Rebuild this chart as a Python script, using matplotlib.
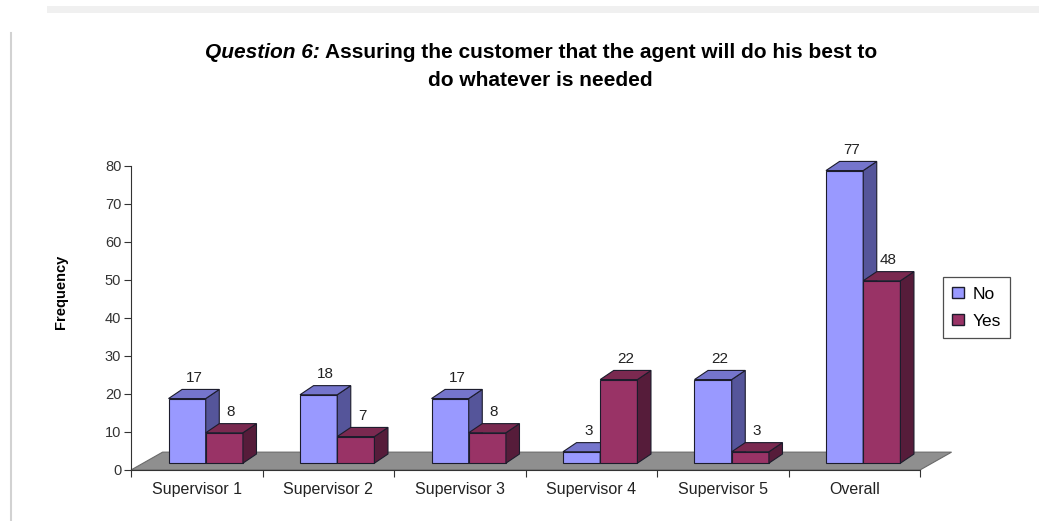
import numpy as np
import matplotlib.pyplot as plt
from matplotlib.patches import Polygon, Patch
from matplotlib.lines import Line2D

plt.rcParams['font.family'] = ['Liberation Sans', 'DejaVu Sans']

categories = ['Supervisor 1', 'Supervisor 2', 'Supervisor 3', 'Supervisor 4', 'Supervisor 5', 'Overall']
no_vals = [17, 18, 17, 3, 22, 77]
yes_vals = [8, 7, 8, 22, 3, 48]

# face colours: front, top, side
no_cols = ('#9999ff', '#7575cc', '#55559a')
yes_cols = ('#993366', '#7a2950', '#561c3a')
edge = '#1c1c2c'

W, BASE = 0.283, 1.8      # bar width, lift of bar base above the floor front
DX, DY = 0.103, 2.4       # bar depth offset (x units, value units)
FDX, FDY = 0.24, 4.7      # floor depth offset

fig = plt.figure(figsize=(10.5, 5.21), dpi=100)
ax = fig.add_axes([0.1248, 0.0979, 0.7514, 0.5835])
ax.set_xlim(-0.5, 5.5)
ax.set_ylim(0, 80)

# gray floor
floor = Polygon([(-0.5, 0), (5.5, 0), (5.5 + FDX, FDY), (-0.5 + FDX, FDY)],
                closed=True, facecolor='#8f8f8f', edgecolor='#6a6a6a', lw=0.8,
                clip_on=False, zorder=1)
ax.add_patch(floor)


def bar3d(x0, v, cols, z):
    x1 = x0 + W
    top = BASE + v
    ax.bar(x0, v, width=W, bottom=BASE, align='edge', color=cols[0],
           edgecolor=edge, lw=0.8, zorder=z, clip_on=False)
    ax.add_patch(Polygon([(x1, BASE), (x1 + DX, BASE + DY), (x1 + DX, top + DY), (x1, top)],
                         facecolor=cols[2], edgecolor=edge, lw=0.8, zorder=z, clip_on=False))
    ax.add_patch(Polygon([(x0, top), (x0 + DX, top + DY), (x1 + DX, top + DY), (x1, top)],
                         facecolor=cols[1], edgecolor=edge, lw=0.8, zorder=z, clip_on=False))
    ax.annotate(str(v), (x0 + W / 2 + DX / 2, top + DY), xytext=(0, 3),
                textcoords='offset points', ha='center', va='bottom',
                fontsize=11, color='#222222', zorder=20, annotation_clip=False)


for i in range(len(categories)):
    bar3d(i - 0.215, no_vals[i], no_cols, 2 + 2 * i)
    bar3d(i - 0.215 + W, yes_vals[i], yes_cols, 3 + 2 * i)

# axes styling
for s in ['top', 'right']:
    ax.spines[s].set_visible(False)
ax.spines['left'].set_color('#333333')
ax.spines['bottom'].set_color('#333333')
ax.set_yticks(np.arange(0, 81, 10))
ax.tick_params(axis='y', direction='out', length=5, labelsize=10.5, colors='#333333', pad=2)
ax.set_xticks(np.arange(-0.5, 6, 1))
ax.set_xticklabels([])
ax.set_xticks(np.arange(6), minor=True)
ax.set_xticklabels(categories, minor=True)
ax.tick_params(axis='x', which='major', direction='out', length=5, colors='#333333')
ax.tick_params(axis='x', which='minor', length=0, labelsize=11.5, pad=9, colors='#222222')
ax.set_ylabel('Frequency', fontsize=10.5, fontweight='bold')
ax.yaxis.set_label_coords(-0.08, 0.585)
ax.patch.set_alpha(0)

leg = ax.legend(handles=[Patch(facecolor=no_cols[0], edgecolor=edge, label='No'),
                         Patch(facecolor=yes_cols[0], edgecolor=edge, label='Yes')],
                loc='upper left', bbox_to_anchor=(1.029, 0.635), borderaxespad=0,
                frameon=True, fancybox=False,
                fontsize=12.5, handlelength=0.65, handleheight=0.65, handletextpad=0.5,
                borderpad=0.55, labelspacing=0.7)
leg.get_frame().set_edgecolor('#222222')
leg.get_frame().set_linewidth(0.9)

# two-line title, first part italic
fig.canvas.draw()
r = fig.canvas.get_renderer()
t1a = fig.text(0, 0.9, 'Question 6:', fontsize=15, fontweight='bold', style='italic', va='center')
t1b = fig.text(0, 0.9, ' Assuring the customer that the agent will do his best to',
               fontsize=15, fontweight='bold', va='center')
wa = t1a.get_window_extent(r).width / fig.bbox.width
wb = t1b.get_window_extent(r).width / fig.bbox.width
xs = 0.515 - (wa + wb) / 2
t1a.set_x(xs)
t1b.set_x(xs + wa)
fig.text(0.515, 0.846, 'do whatever is needed', fontsize=15, fontweight='bold',
         ha='center', va='center')

# faint outer frame
fig.add_artist(Line2D([11 / 1050, 11 / 1050], [0, 1 - 33 / 521], color='#d2d2d2', lw=1.5))
fig.add_artist(Line2D([50 / 1050, 1035 / 1050], [1 - 9 / 521, 1 - 9 / 521], color='#f0f0f0', lw=5))

fig.savefig('out.png', dpi=100)
